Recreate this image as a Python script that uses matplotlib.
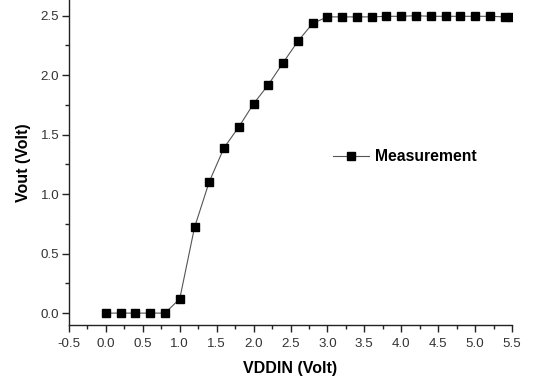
import matplotlib
matplotlib.use("Agg")
import matplotlib.pyplot as plt
from matplotlib.ticker import MultipleLocator

plt.rcParams['font.family'] = ['Liberation Sans', 'DejaVu Sans']

vddin = [0.0, 0.2, 0.4, 0.6, 0.8, 1.0, 1.2, 1.4, 1.6, 1.8, 2.0, 2.2, 2.4, 2.6, 2.8,
         3.0, 3.2, 3.4, 3.6, 3.8, 4.0, 4.2, 4.4, 4.6, 4.8, 5.0, 5.2, 5.4, 5.5]
vout = [0.0, 0.0, 0.0, 0.0, 0.0, 0.12, 0.72, 1.105, 1.39, 1.565, 1.76, 1.92, 2.105, 2.285, 2.435,
        2.49, 2.49, 2.49, 2.49, 2.495, 2.495, 2.5, 2.495, 2.495, 2.495, 2.495, 2.495, 2.49, 2.49]

fig = plt.figure(figsize=(5.33, 3.83), dpi=100)
ax = fig.add_axes([69/533, 1 - 325/383, (512 - 69)/533, 325/383])

ax.plot(vddin, vout, color='#555555', lw=0.8, marker='s', markersize=5.4,
        markerfacecolor='black', markeredgecolor='black', label='Measurement')

ax.set_xlim(-0.5, 5.5)
ax.set_ylim(-0.1, 2.632)
ax.xaxis.set_minor_locator(MultipleLocator(0.25))
ax.yaxis.set_minor_locator(MultipleLocator(0.25))
ax.set_xticks([-0.5 + 0.5 * i for i in range(13)])
ax.set_xticklabels(['%.1f' % (-0.5 + 0.5 * i) for i in range(13)])
ax.set_yticks([0.0, 0.5, 1.0, 1.5, 2.0, 2.5])
ax.set_yticklabels(['0.0', '0.5', '1.0', '1.5', '2.0', '2.5'])

for s in ['top', 'right']:
    ax.spines[s].set_visible(False)
for s in ['left', 'bottom']:
    ax.spines[s].set_linewidth(1.0)
    ax.spines[s].set_color('#222222')

ax.tick_params(which='major', direction='out', length=5, width=1.0, labelsize=9.6,
               colors='#222222', labelcolor='#333333')
ax.tick_params(axis='x', which='major', pad=4.5)
ax.tick_params(axis='y', which='major', pad=2)
ax.tick_params(which='minor', direction='out', length=3, width=1.0, colors='#222222')

ax.set_xlabel('VDDIN (Volt)', fontsize=11.5, fontweight='bold', labelpad=8)
ax.set_ylabel('Vout (Volt)', fontsize=11.5, fontweight='bold', labelpad=7)

leg = ax.legend(loc='center left', bbox_to_anchor=(333/533, 1 - 156.7/383),
                bbox_transform=fig.transFigure, frameon=False, borderpad=0,
                borderaxespad=0, handlelength=2.3, handletextpad=0.35,
                prop={'weight': 'bold', 'size': 11.3})

fig.savefig('out.png', dpi=100)
